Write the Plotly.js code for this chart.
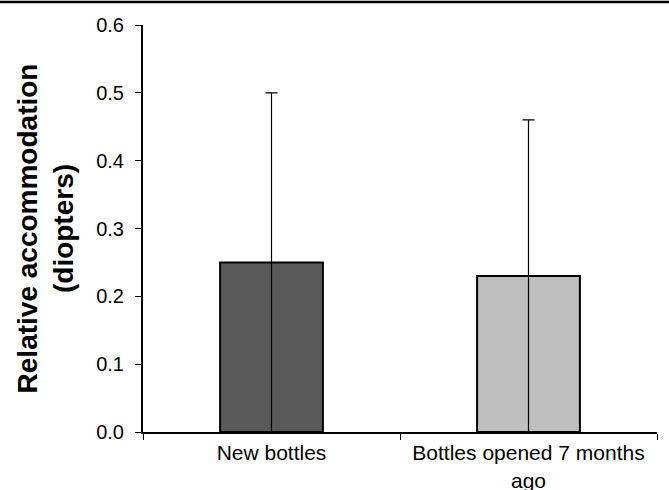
<!DOCTYPE html>
<html><head><meta charset="utf-8">
<script src="https://cdn.plot.ly/plotly-3.0.1.min.js"></script>
<style>html,body{margin:0;padding:0;background:#fff}#chart{width:669px;height:490px}</style>
</head><body><div id="chart"></div>
<script>
const categories = ["New bottles", "Bottles opened 7 months<br>ago"];
const values = [0.25, 0.23];
const errors = [0.25, 0.23];
const barColors = ["#595959", "#bfbfbf"];
const yTicks = [0, 0.1, 0.2, 0.3, 0.4, 0.5, 0.6];
const yTickText = ["0.0", "0.1", "0.2", "0.3", "0.4", "0.5", "0.6"];

const W = 669, H = 490, L = 143, R = 12, T = 25, B = 58;
const pw = W - L - R, ph = H - T - B;

Plotly.newPlot("chart", [{
  type: "bar",
  x: categories,
  y: values,
  width: 0.4,
  marker: {color: barColors, line: {color: "#000", width: 2}},
  error_y: {type: "data", array: errors, symmetric: true, color: "#000", thickness: 1.2, width: 6},
  hoverinfo: "none"
}], {
  width: W, height: H,
  margin: {l: L, r: R, t: T, b: B, pad: 0},
  paper_bgcolor: "#fff", plot_bgcolor: "#fff",
  showlegend: false,
  font: {family: "Liberation Sans, Arial, sans-serif", size: 20, color: "#000"},
  xaxis: {
    type: "category", tickson: "boundaries", ticks: "outside", ticklen: 6, tickcolor: "#000", tickwidth: 1,
    showline: true, linecolor: "#000", linewidth: 2, showgrid: false, zeroline: false,
    tickfont: {size: 21}, ticklabelstandoff: 1, range: [-0.5, 1.5], fixedrange: true
  },
  yaxis: {
    range: [0, 0.6], tickvals: yTicks, ticktext: yTickText, ticks: "outside", ticklen: 6,
    tickcolor: "#000", tickwidth: 1, showline: true, linecolor: "#000", linewidth: 2,
    showgrid: false, zeroline: false, tickfont: {size: 20}, ticklabelstandoff: 7,
    title: {text: "<b>Relative accommodation<br>(diopters)</b>", font: {size: 28}, standoff: 14}
  },
  shapes: [{
    type: "line", xref: "paper", yref: "paper",
    x0: -L / pw, x1: (W - L) / pw, y0: (H - B - 2) / ph, y1: (H - B - 2) / ph,
    line: {color: "#000", width: 2.5}
  }]
}, {staticPlot: true});
</script></body></html>
